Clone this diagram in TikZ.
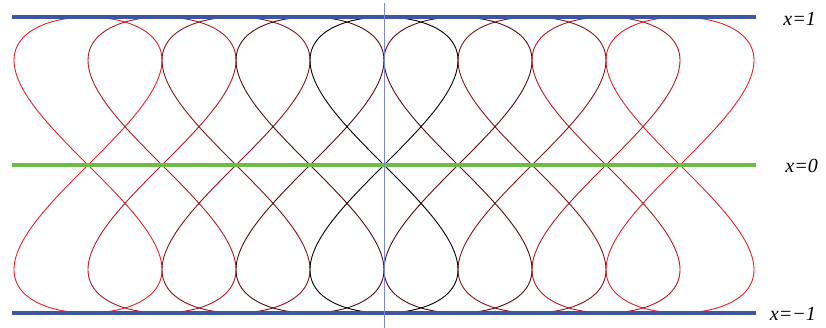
\documentclass[tikz,border=0pt]{standalone}
\usepackage{fontspec}
\setmainfont{Liberation Serif}
\usepackage{xcolor}
\usepackage{tikz}
\definecolor{bandBlue}{RGB}{60,85,165}
\definecolor{midGreen}{RGB}{110,188,70}
\definecolor{axisBlue}{RGB}{125,135,210}
\definecolor{loopRed}{RGB}{232,32,42}

\begin{document}
\begin{tikzpicture}[x=1pt,y=-1pt,
    every node/.style={font=\fontsize{20}{22}\selectfont\itshape,inner sep=0pt}]
  \useasboundingbox (0,0) rectangle (826,328);
  \foreach \k/\mix in {-4/100,4/100,-3/78,3/78,-2/58,2/58,-1/36,1/36,0/0} {
    \draw[line width=0.9pt,color=loopRed!\mix!black,domain=0:360,samples=240,smooth,variable=\t]
      plot ({384+74*\k+148*sin(\t)*cos(\t)},{165-148*cos(\t)});
  }
  \draw[line width=4pt,bandBlue] (12,17) -- (756,17);
  \draw[line width=4pt,midGreen] (12,165) -- (756,165);
  \draw[line width=4pt,bandBlue] (12,313) -- (756,313);
  \draw[line width=1pt,axisBlue] (384,3) -- (384,328);
  \node[anchor=base east] (top) at (816,26) {x=1};
  \node[anchor=base east] (mid) at (818,173) {x=0};
  \node[anchor=base east] (bot) at (816,320) {x=−1};
\end{tikzpicture}
\end{document}
